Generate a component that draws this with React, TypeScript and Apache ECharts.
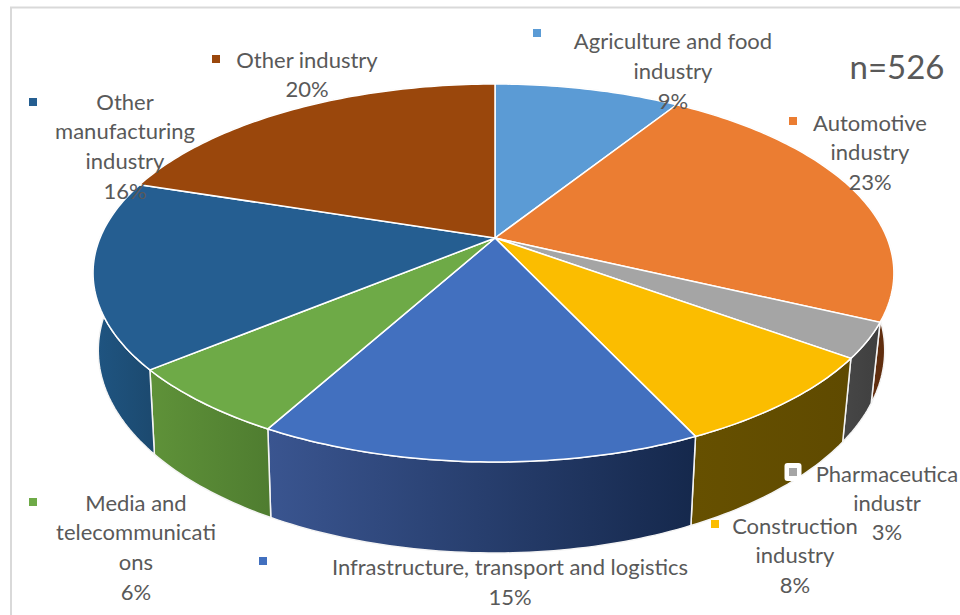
import React, { useEffect, useRef } from "react";
import * as echarts from "echarts";

// Sector shares in percent, clockwise from twelve o'clock
const sectors = [
  "Agriculture and food industry",
  "Automotive industry",
  "Pharmaceutical industry",
  "Construction industry",
  "Infrastructure, transport and logistics",
  "Media and telecommunications",
  "Other manufacturing industry",
  "Other industry",
];
const shares = [9, 23, 3, 8, 15, 6, 16, 20];
const sampleSize = "n=526";

// Wrapped label lines as they appear next to the pie
const labelLines = [
  ["Agriculture and food", "industry"],
  ["Automotive", "industry"],
  ["Pharmaceutica", "industr"],
  ["Construction", "industry"],
  ["Infrastructure, transport and logistics"],
  ["Media and", "telecommunicati", "ons"],
  ["Other", "manufacturing", "industry"],
  ["Other industry"],
];

const topColors = ["#5B9BD5", "#EB7D32", "#A5A5A5", "#FBBD00", "#4270BF", "#6EAA47", "#255E91", "#9A470C"];
const sideColorsFrom = ["#35597B", "#70381A", "#454545", "#665000", "#3A5590", "#5F9239", "#1F5582", "#5C2A08"];
const sideColorsTo = ["#35597B", "#5F2D0E", "#3F3F3F", "#5F4A00", "#15284C", "#4F7D30", "#1C4A70", "#5C2A08"];

// Label placement: centre x, first line y, line step, marker x, marker y
const labelLayout = [
  { cx: 673, y: 40, step: 30, mx: 537, my: 33 },
  { cx: 870, y: 122, step: 29.5, mx: 793, my: 121 },
  { cx: 887, y: 473, step: 29, mx: 793, my: 472 },
  { cx: 795, y: 525, step: 29.5, mx: 715, my: 524 },
  { cx: 510, y: 566, step: 30, mx: 263, my: 561 },
  { cx: 136, y: 502, step: 29.7, mx: 33, my: 502 },
  { cx: 125, y: 101, step: 29.7, mx: 33, my: 102 },
  { cx: 307, y: 59, step: 29, mx: 216, my: 59 },
];

const FONT = '22px Lato, "Open Sans", sans-serif';
const TEXT = "#595959";

// Perspective projection of the pie's unit disc onto the page
const APEX_X = 495;
const APEX_Y = 238;
const TILT = 0.1852;
const SPREAD_RIGHT = 392;
const SPREAD_LEFT = 395;
const SPREAD_Y = -138.44;

const rimTop = (deg: number): [number, number] => {
  const t = (deg * Math.PI) / 180;
  const d = 1 + TILT * Math.cos(t);
  const s = Math.sin(t);
  return [APEX_X + ((s < 0 ? SPREAD_LEFT : SPREAD_RIGHT) * s) / d, (APEX_Y + SPREAD_Y * Math.cos(t)) / d];
};

// The lower rim is the upper rim pulled down and slightly inward
const rimBottom = (deg: number): [number, number] => {
  const [x, y] = rimTop(deg);
  const inward = x < APEX_X ? 0.987 : 0.977;
  return [APEX_X + (x - APEX_X) * inward, y + 81 + (y - 322) * 0.0714];
};

const sweep = (dataIndex: number, value: number): [number, number] => {
  const before = shares.slice(0, dataIndex).reduce((a, b) => a + b, 0);
  return [(before / 100) * 360, ((before + value) / 100) * 360];
};

const arc = (from: number, to: number, at: (deg: number) => [number, number]) => {
  const n = Math.max(2, Math.ceil(to - from));
  const pts: [number, number][] = [];
  for (let i = 0; i <= n; i++) pts.push(at(from + ((to - from) * i) / n));
  return pts;
};

function renderSide(params: any, api: any) {
  const [a, b] = sweep(params.dataIndex, api.value(0));
  const upper = arc(a, b, rimTop);
  const lower = arc(a, b, rimBottom).reverse();
  const xs = upper.map((p) => p[0]);
  const left = Math.min(...xs);
  const right = Math.max(...xs);
  return {
    type: "polygon",
    shape: { points: [...upper, ...lower] },
    style: {
      fill: new echarts.graphic.LinearGradient(
        left,
        0,
        right,
        0,
        [
          { offset: 0, color: sideColorsFrom[params.dataIndex] },
          { offset: 1, color: sideColorsTo[params.dataIndex] },
        ],
        true,
      ),
      stroke: "#F4F4F4",
      lineWidth: 1.5,
    },
  };
}

function renderTop(params: any, api: any) {
  const [a, b] = sweep(params.dataIndex, api.value(0));
  return {
    type: "polygon",
    shape: { points: [[APEX_X, APEX_Y], ...arc(a, b, rimTop)] },
    style: { fill: topColors[params.dataIndex], stroke: "#FFFFFF", lineWidth: 1.5 },
  };
}

function labelElements() {
  const out: any[] = [];
  const text = (s: string, x: number, y: number, font = FONT) => ({
    type: "text",
    z: 50,
    silent: true,
    style: {
      text: s,
      x,
      y,
      font,
      fill: TEXT,
      align: "center",
      textAlign: "center",
      verticalAlign: "middle",
      textVerticalAlign: "middle",
    },
  });
  labelLines.forEach((lines, i) => {
    const l = labelLayout[i];
    lines.forEach((s, j) => out.push(text(s, l.cx, l.y + j * l.step)));
    out.push(text(`${shares[i]}%`, l.cx, l.y + lines.length * l.step));
    if (i === 2) {
      // Pharmaceutical's key sits in a white box where it crosses the pie's side
      out.push({
        type: "rect",
        z: 49,
        silent: true,
        shape: { x: l.mx - 8.5, y: l.my - 9, width: 17, height: 18, r: 3 },
        style: { fill: "#FFFFFF" },
      });
    }
    out.push({
      type: "rect",
      z: 50,
      silent: true,
      shape: { x: l.mx - 4, y: l.my - 4, width: 8, height: 8 },
      style: { fill: topColors[i] },
    });
  });
  out.push(text(sampleSize, 897, 66, '33px Lato, "Open Sans", sans-serif'));
  // Chart frame, its right and lower edges run off the page
  out.push({
    type: "rect",
    z: 1,
    silent: true,
    shape: { x: 11, y: 7.5, width: 960, height: 640 },
    style: { fill: "#FFFFFF", stroke: "#D9D9D9", lineWidth: 2 },
  });
  return out;
}

export default function App() {
  const ref = useRef<HTMLDivElement>(null);
  useEffect(() => {
    document.body.style.margin = "0";
    const chart = echarts.init(ref.current!, undefined, { renderer: "svg" });
    const data = shares.map((value, i) => ({ name: sectors[i], value }));
    chart.setOption({
      animation: false,
      backgroundColor: "#FFFFFF",
      graphic: { elements: labelElements() },
      series: [
        { type: "custom", coordinateSystem: "none", z: 5, silent: true, data, renderItem: renderSide },
        { type: "custom", coordinateSystem: "none", z: 6, silent: true, data, renderItem: renderTop },
      ],
    });
    return () => chart.dispose();
  }, []);
  return <div ref={ref} style={{ width: 960, height: 615 }} />;
}
